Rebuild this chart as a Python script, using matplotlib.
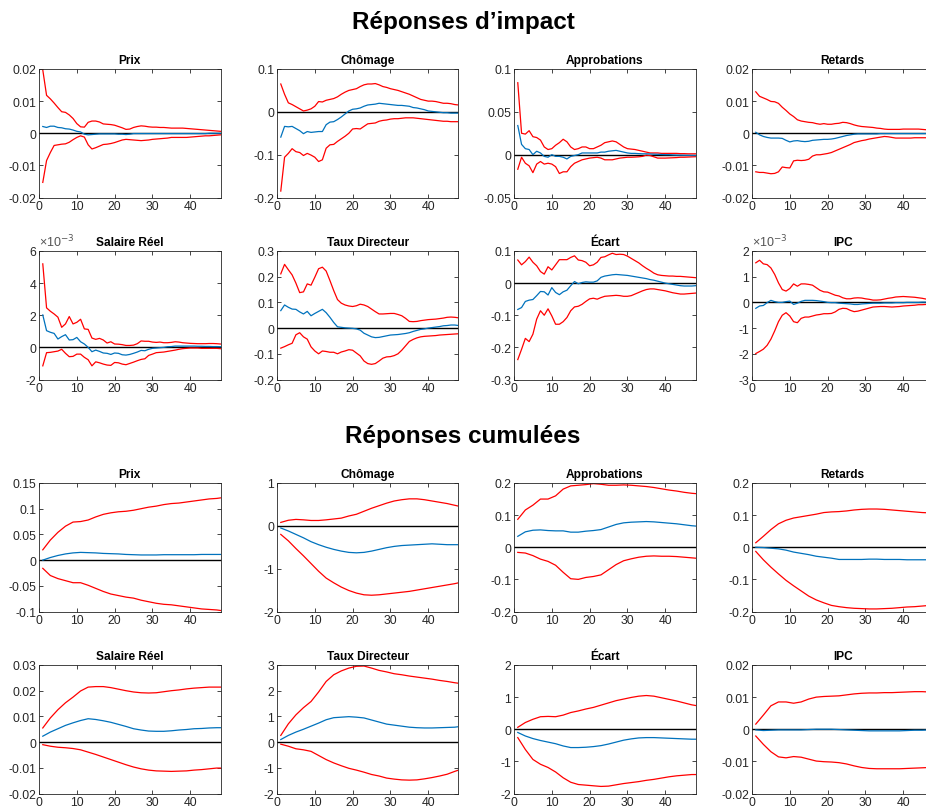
import numpy as np
import matplotlib
matplotlib.use("Agg")
import matplotlib.pyplot as plt
from matplotlib.ticker import MultipleLocator, FuncFormatter

plt.rcParams["font.family"] = ["Liberation Sans", "DejaVu Sans"]

TITLES = ["Prix", "Chômage", "Approbations", "Retards",
          "Salaire Réel", "Taux Directeur", "Écart", "IPC"]

T_IMP = np.arange(1, 49)
T_CUM = np.r_[np.arange(1, 48, 2), 48]

# ---- impact responses (lower band, median, upper band) ----
imp_prix_lo = [-0.0153, -0.0085, -0.0060, -0.0038, -0.0036, -0.0034, -0.0033, -0.0028, -0.0020, -0.0013,
               -0.0008, -0.0012, -0.0036, -0.0049, -0.0045, -0.0040, -0.0035, -0.0034, -0.0032, -0.0029,
               -0.0025, -0.0021, -0.0019, -0.0020, -0.0021, -0.0022, -0.0023, -0.0022, -0.0021, -0.0019,
               -0.0018, -0.0017, -0.0016, -0.0015, -0.0013, -0.0013, -0.0013, -0.0013, -0.0013, -0.0012,
               -0.0011, -0.0010, -0.0009, -0.0008, -0.0008, -0.0007, -0.0006, -0.0005]
imp_prix_med = [0.0021, 0.0018, 0.0022, 0.0022, 0.0018, 0.0017, 0.0014, 0.0013, 0.0010, 0.0006,
                0.0004, -0.0003, -0.0005, -0.0004, -0.0003, -0.0002, -0.0002, -0.0002, -0.0002, -0.0002,
                -0.0003, -0.0003, -0.0004, -0.0003, -0.0001, -0.0001, -0.0001, -0.0001, -0.0001, -0.0001,
                -0.0001, -0.0001, -0.0001, -0.0001, -0.0001, -0.0001, -0.0001, -0.0001, -0.0001, -0.0001,
                -0.0001, -0.0001, -0.0001, -0.0001, 0.0, 0.0, 0.0, 0.0]
imp_prix_hi = [0.0197, 0.0118, 0.0107, 0.0094, 0.0080, 0.0067, 0.0065, 0.0057, 0.0046, 0.0030,
               0.0020, 0.0019, 0.0034, 0.0038, 0.0038, 0.0035, 0.0029, 0.0028, 0.0027, 0.0025,
               0.0021, 0.0017, 0.0012, 0.0013, 0.0018, 0.0021, 0.0023, 0.0022, 0.0020, 0.0019,
               0.0019, 0.0018, 0.0018, 0.0017, 0.0016, 0.0016, 0.0016, 0.0016, 0.0015, 0.0014,
               0.0013, 0.0012, 0.0011, 0.0010, 0.0009, 0.0008, 0.0007, 0.0006]

imp_chom_lo = [-0.185, -0.106, -0.097, -0.086, -0.093, -0.095, -0.102, -0.097, -0.101, -0.106,
               -0.116, -0.112, -0.085, -0.077, -0.076, -0.069, -0.063, -0.057, -0.050, -0.040,
               -0.039, -0.040, -0.034, -0.028, -0.027, -0.026, -0.022, -0.020, -0.019, -0.017,
               -0.016, -0.016, -0.015, -0.014, -0.014, -0.014, -0.015, -0.016, -0.017, -0.018,
               -0.019, -0.020, -0.021, -0.022, -0.022, -0.023, -0.023, -0.023]
imp_chom_med = [-0.059, -0.034, -0.035, -0.034, -0.039, -0.044, -0.051, -0.046, -0.048, -0.047,
                -0.046, -0.046, -0.030, -0.024, -0.023, -0.018, -0.012, -0.005, 0.002, 0.006,
                0.007, 0.009, 0.013, 0.016, 0.017, 0.018, 0.020, 0.019, 0.018, 0.017,
                0.016, 0.015, 0.015, 0.014, 0.013, 0.010, 0.009, 0.007, 0.005, 0.002,
                0.001, 0.000, -0.001, -0.002, -0.002, -0.003, -0.003, -0.003]
imp_chom_hi = [0.065, 0.041, 0.021, 0.017, 0.012, 0.007, 0.002, 0.004, 0.007, 0.013,
               0.024, 0.023, 0.027, 0.029, 0.031, 0.035, 0.041, 0.046, 0.050, 0.052,
               0.054, 0.059, 0.063, 0.065, 0.065, 0.066, 0.063, 0.059, 0.057, 0.054,
               0.052, 0.050, 0.047, 0.044, 0.041, 0.037, 0.033, 0.029, 0.027, 0.025,
               0.025, 0.024, 0.022, 0.020, 0.020, 0.019, 0.017, 0.016]

imp_appr_lo = [-0.017, -0.003, -0.010, -0.013, -0.021, -0.011, -0.008, -0.011, -0.010, -0.011,
               -0.014, -0.022, -0.020, -0.020, -0.014, -0.010, -0.008, -0.006, -0.005, -0.004,
               -0.0035, -0.003, -0.004, -0.006, -0.006, -0.006, -0.005, -0.004, -0.0035, -0.003,
               -0.003, -0.0028, -0.0025, -0.002, -0.0005, -0.001, -0.0025, -0.004, -0.004, -0.004,
               -0.0038, -0.0036, -0.0034, -0.003, -0.003, -0.0028, -0.0026, -0.0024]
imp_appr_med = [0.034, 0.012, 0.007, 0.006, 0.000, 0.004, 0.002, -0.002, -0.003, 0.000,
                -0.002, -0.002, -0.003, -0.005, -0.002, -0.001, 0.000, 0.002, 0.002, 0.002,
                0.002, 0.002, 0.003, 0.003, 0.004, 0.0045, 0.005, 0.004, 0.003, 0.002,
                0.0015, 0.0015, 0.0012, 0.001, 0.001, 0.0008, 0.0006, 0.0004, 0.0002, 0.0,
                0.0, -0.0003, -0.0005, -0.0006, -0.0007, -0.0008, -0.0009, -0.001]
imp_appr_hi = [0.084, 0.025, 0.024, 0.028, 0.021, 0.020, 0.017, 0.009, 0.006, 0.007,
               0.011, 0.014, 0.018, 0.015, 0.009, 0.006, 0.007, 0.009, 0.009, 0.007,
               0.007, 0.009, 0.011, 0.014, 0.015, 0.016, 0.015, 0.012, 0.009, 0.007,
               0.0065, 0.006, 0.005, 0.004, 0.003, 0.002, 0.002, 0.002, 0.0015, 0.0015,
               0.0015, 0.0015, 0.0015, 0.0012, 0.0012, 0.001, 0.001, 0.001]

imp_ret_lo = [-0.0120, -0.0122, -0.0122, -0.0124, -0.0126, -0.0125, -0.0120, -0.0105, -0.0107, -0.0108,
              -0.0086, -0.0084, -0.0085, -0.0084, -0.0081, -0.0071, -0.0067, -0.0067, -0.0065, -0.0063,
              -0.0060, -0.0055, -0.0050, -0.0045, -0.0040, -0.0035, -0.0029, -0.0026, -0.0023, -0.0021,
              -0.0018, -0.0016, -0.0014, -0.0012, -0.0010, -0.0011, -0.0013, -0.0015, -0.0015, -0.0015,
              -0.0015, -0.0015, -0.0014, -0.0014, -0.0014, -0.0014, -0.0014, -0.0014]
imp_ret_med = [0.0003, -0.0005, -0.0010, -0.0013, -0.0015, -0.0015, -0.0015, -0.0016, -0.0022, -0.0027,
               -0.0024, -0.0023, -0.0025, -0.0026, -0.0025, -0.0022, -0.0021, -0.0020, -0.0019, -0.0019,
               -0.0018, -0.0016, -0.0013, -0.0010, -0.0007, -0.0005, -0.0003, -0.0002, -0.0002, -0.0002,
               -0.0002, -0.0002, -0.0002, -0.0001, -0.0001, -0.0001, -0.0001, -0.0001, -0.0001, -0.0001,
               -0.0001, -0.0001, -0.0001, -0.0001, -0.0001, -0.0001, -0.0001, -0.0001]
imp_ret_hi = [0.0129, 0.0115, 0.0110, 0.0105, 0.0099, 0.0098, 0.0093, 0.0081, 0.0071, 0.0060,
              0.0052, 0.0042, 0.0038, 0.0036, 0.0034, 0.0033, 0.0030, 0.0028, 0.0030, 0.0028,
              0.0028, 0.0030, 0.0031, 0.0034, 0.0033, 0.0030, 0.0026, 0.0023, 0.0021, 0.0020,
              0.0019, 0.0018, 0.0016, 0.0015, 0.0013, 0.0012, 0.0012, 0.0012, 0.0012, 0.0013,
              0.0013, 0.0013, 0.0013, 0.0013, 0.0012, 0.0011, 0.0011, 0.0010]

# salaire reel and IPC impact are in units of 1e-3
imp_sal_lo = [-1.15, -0.33, -0.31, -0.27, -0.23, -0.12, -0.37, -0.58, -0.56, -0.42,
              -0.42, -0.62, -0.77, -1.15, -0.90, -0.96, -1.04, -1.10, -1.12, -0.94,
              -0.96, -1.04, -1.08, -1.00, -0.92, -0.83, -0.75, -0.71, -0.50, -0.42,
              -0.33, -0.31, -0.29, -0.25, -0.21, -0.17, -0.12, -0.08, -0.06, -0.04,
              -0.04, -0.04, -0.06, -0.06, -0.06, -0.06, -0.06, -0.08]
imp_sal_med = [2.02, 1.04, 0.94, 0.87, 0.52, 0.67, 0.79, 0.46, 0.48, 0.62,
               0.35, 0.21, 0.00, -0.27, -0.17, -0.25, -0.35, -0.37, -0.44, -0.35,
               -0.37, -0.46, -0.48, -0.44, -0.37, -0.29, -0.19, -0.21, -0.12, -0.06,
               -0.04, -0.02, 0.00, 0.04, 0.05, 0.08, 0.08, 0.08, 0.08, 0.08,
               0.08, 0.07, 0.07, 0.06, 0.06, 0.05, 0.05, 0.04]
imp_sal_hi = [5.20, 2.46, 2.25, 2.08, 1.88, 1.25, 1.46, 1.92, 1.46, 1.56,
              1.75, 1.15, 1.12, 0.58, 0.50, 0.56, 0.46, 0.27, 0.35, 0.21,
              0.20, 0.17, 0.12, 0.12, 0.14, 0.23, 0.40, 0.38, 0.38, 0.33,
              0.31, 0.33, 0.29, 0.29, 0.31, 0.35, 0.33, 0.29, 0.27, 0.25,
              0.24, 0.23, 0.23, 0.23, 0.24, 0.24, 0.23, 0.21]

imp_taux_lo = [-0.078, -0.072, -0.065, -0.059, -0.026, -0.018, -0.034, -0.043, -0.073, -0.089,
               -0.100, -0.089, -0.091, -0.094, -0.094, -0.100, -0.093, -0.089, -0.084, -0.086,
               -0.097, -0.108, -0.128, -0.138, -0.141, -0.138, -0.128, -0.117, -0.112, -0.111,
               -0.107, -0.100, -0.086, -0.069, -0.052, -0.044, -0.038, -0.034, -0.032, -0.031,
               -0.030, -0.029, -0.027, -0.026, -0.025, -0.024, -0.023, -0.022]
imp_taux_med = [0.068, 0.090, 0.081, 0.074, 0.073, 0.063, 0.055, 0.065, 0.048, 0.057,
                0.065, 0.073, 0.060, 0.042, 0.022, 0.005, 0.003, 0.001, 0.000, -0.001,
                -0.003, -0.008, -0.020, -0.027, -0.034, -0.037, -0.036, -0.033, -0.030, -0.027,
                -0.026, -0.025, -0.023, -0.021, -0.018, -0.013, -0.009, -0.005, -0.003, 0.000,
                0.002, 0.004, 0.006, 0.009, 0.010, 0.012, 0.012, 0.010]
imp_taux_hi = [0.211, 0.248, 0.227, 0.207, 0.175, 0.138, 0.141, 0.172, 0.167, 0.198,
               0.231, 0.237, 0.222, 0.185, 0.146, 0.111, 0.097, 0.090, 0.086, 0.084,
               0.087, 0.093, 0.090, 0.084, 0.074, 0.064, 0.055, 0.055, 0.056, 0.057,
               0.057, 0.053, 0.048, 0.038, 0.026, 0.025, 0.026, 0.029, 0.031, 0.033,
               0.034, 0.035, 0.037, 0.039, 0.042, 0.043, 0.042, 0.040]

imp_ecart_lo = [-0.238, -0.206, -0.172, -0.182, -0.159, -0.112, -0.086, -0.100, -0.080, -0.102,
                -0.128, -0.128, -0.120, -0.107, -0.086, -0.074, -0.072, -0.066, -0.057, -0.049,
                -0.047, -0.050, -0.045, -0.041, -0.040, -0.039, -0.038, -0.039, -0.041, -0.041,
                -0.039, -0.034, -0.029, -0.024, -0.020, -0.018, -0.018, -0.020, -0.022, -0.024,
                -0.027, -0.030, -0.032, -0.034, -0.034, -0.033, -0.032, -0.031]
imp_ecart_med = [-0.082, -0.076, -0.057, -0.053, -0.051, -0.039, -0.026, -0.027, -0.037, -0.014,
                 -0.029, -0.036, -0.027, -0.022, -0.008, 0.005, -0.002, 0.002, 0.004, 0.003,
                 0.003, 0.007, 0.018, 0.022, 0.024, 0.026, 0.027, 0.026, 0.025, 0.024,
                 0.022, 0.020, 0.018, 0.016, 0.014, 0.011, 0.009, 0.006, 0.003, 0.000,
                 -0.002, -0.004, -0.006, -0.008, -0.009, -0.009, -0.009, -0.008]
imp_ecart_hi = [0.072, 0.057, 0.067, 0.081, 0.065, 0.054, 0.036, 0.028, 0.051, 0.041,
                0.057, 0.073, 0.073, 0.073, 0.080, 0.085, 0.072, 0.070, 0.065, 0.054,
                0.057, 0.065, 0.080, 0.082, 0.088, 0.093, 0.089, 0.090, 0.089, 0.084,
                0.077, 0.070, 0.063, 0.054, 0.046, 0.039, 0.031, 0.026, 0.024, 0.023,
                0.022, 0.022, 0.021, 0.021, 0.020, 0.019, 0.018, 0.017]

imp_ipc_lo = [-1.99, -1.91, -1.82, -1.67, -1.43, -1.11, -0.75, -0.50, -0.40, -0.53,
              -0.75, -0.79, -0.62, -0.57, -0.57, -0.53, -0.49, -0.47, -0.44, -0.44,
              -0.43, -0.37, -0.27, -0.23, -0.24, -0.31, -0.36, -0.34, -0.30, -0.26,
              -0.22, -0.18, -0.17, -0.16, -0.16, -0.17, -0.18, -0.17, -0.16, -0.14,
              -0.13, -0.12, -0.11, -0.09, -0.09, -0.08, -0.08, -0.08]
imp_ipc_med = [-0.23, -0.14, -0.12, -0.01, 0.08, 0.03, 0.00, 0.00, 0.03, 0.05,
               -0.08, -0.03, 0.04, 0.08, 0.08, 0.08, 0.07, 0.05, 0.03, 0.00,
               -0.01, -0.01, -0.03, -0.04, -0.05, -0.06, -0.08, -0.08, -0.06, -0.05,
               -0.04, -0.03, -0.03, -0.03, -0.02, -0.02, -0.02, -0.01, -0.01, -0.01,
               0.00, 0.00, 0.00, 0.00, 0.01, 0.01, 0.01, 0.01]
imp_ipc_hi = [1.54, 1.64, 1.50, 1.47, 1.34, 1.09, 0.76, 0.50, 0.44, 0.54,
              0.72, 0.63, 0.72, 0.72, 0.70, 0.67, 0.57, 0.47, 0.41, 0.40,
              0.34, 0.28, 0.25, 0.18, 0.14, 0.14, 0.17, 0.18, 0.17, 0.14,
              0.12, 0.09, 0.09, 0.10, 0.13, 0.16, 0.18, 0.21, 0.22, 0.23,
              0.22, 0.21, 0.20, 0.18, 0.16, 0.13, 0.12, 0.10]

# ---- cumulated responses, read at T_CUM ----
cum_prix_lo = [-0.016, -0.030, -0.036, -0.040, -0.044, -0.044, -0.049, -0.055, -0.061, -0.066, -0.069, -0.072, -0.074,
               -0.078, -0.081, -0.084, -0.086, -0.087, -0.089, -0.091, -0.093, -0.095, -0.096, -0.097, -0.098]
cum_prix_med = [0.000, 0.005, 0.009, 0.012, 0.014, 0.015, 0.0145, 0.014, 0.013, 0.0125, 0.012, 0.011, 0.0105,
                0.010, 0.010, 0.010, 0.0105, 0.0105, 0.0105, 0.0105, 0.0105, 0.011, 0.011, 0.011, 0.011]
cum_prix_hi = [0.020, 0.039, 0.054, 0.066, 0.074, 0.075, 0.078, 0.084, 0.089, 0.092, 0.094, 0.095, 0.097,
               0.100, 0.103, 0.105, 0.108, 0.110, 0.111, 0.113, 0.115, 0.117, 0.119, 0.120, 0.121]

cum_chom_lo = [-0.20, -0.35, -0.53, -0.70, -0.88, -1.06, -1.22, -1.33, -1.43, -1.51, -1.57, -1.61, -1.62,
               -1.61, -1.59, -1.57, -1.55, -1.53, -1.50, -1.47, -1.44, -1.41, -1.38, -1.35, -1.33]
cum_chom_med = [-0.05, -0.12, -0.20, -0.28, -0.37, -0.44, -0.50, -0.55, -0.59, -0.62, -0.63, -0.62, -0.59,
                -0.55, -0.51, -0.48, -0.46, -0.45, -0.44, -0.43, -0.42, -0.43, -0.44, -0.44, -0.44]
cum_chom_hi = [0.08, 0.13, 0.15, 0.14, 0.125, 0.125, 0.14, 0.16, 0.18, 0.23, 0.27, 0.34, 0.41,
               0.47, 0.53, 0.58, 0.61, 0.63, 0.63, 0.61, 0.58, 0.55, 0.52, 0.48, 0.46]

cum_appr_lo = [-0.016, -0.018, -0.026, -0.037, -0.044, -0.056, -0.078, -0.098, -0.100, -0.094, -0.091, -0.086, -0.070,
               -0.054, -0.042, -0.036, -0.031, -0.028, -0.027, -0.028, -0.028, -0.029, -0.031, -0.033, -0.034]
cum_appr_med = [0.034, 0.048, 0.053, 0.054, 0.052, 0.051, 0.051, 0.047, 0.047, 0.050, 0.052, 0.055, 0.063,
                0.071, 0.076, 0.078, 0.079, 0.080, 0.079, 0.077, 0.075, 0.073, 0.070, 0.067, 0.066]
cum_appr_hi = [0.087, 0.116, 0.131, 0.150, 0.150, 0.160, 0.181, 0.191, 0.193, 0.195, 0.198, 0.196, 0.193,
               0.193, 0.194, 0.193, 0.191, 0.189, 0.186, 0.182, 0.178, 0.175, 0.171, 0.168, 0.167]

cum_ret_lo = [-0.013, -0.039, -0.062, -0.083, -0.103, -0.120, -0.136, -0.152, -0.164, -0.173, -0.181, -0.185, -0.188,
              -0.190, -0.191, -0.192, -0.192, -0.191, -0.190, -0.188, -0.186, -0.185, -0.183, -0.181, -0.180]
cum_ret_med = [0.000, -0.001, -0.003, -0.005, -0.009, -0.015, -0.019, -0.023, -0.028, -0.031, -0.034, -0.038, -0.038,
               -0.038, -0.038, -0.037, -0.037, -0.038, -0.038, -0.038, -0.039, -0.039, -0.039, -0.039, -0.039]
cum_ret_hi = [0.014, 0.034, 0.055, 0.073, 0.084, 0.091, 0.095, 0.099, 0.103, 0.108, 0.110, 0.111, 0.113,
              0.116, 0.118, 0.119, 0.119, 0.118, 0.116, 0.114, 0.112, 0.110, 0.108, 0.107, 0.106]

cum_sal_lo = [-0.0010, -0.0016, -0.0020, -0.0022, -0.0025, -0.0030, -0.0039, -0.0048, -0.0058, -0.0068, -0.0078,
              -0.0088, -0.0097, -0.0104, -0.0109, -0.0112, -0.0113, -0.0114, -0.0113, -0.0112, -0.0109, -0.0107,
              -0.0104, -0.0101, -0.0101]
cum_sal_med = [0.0023, 0.0039, 0.0052, 0.0065, 0.0075, 0.0084, 0.0091, 0.0088, 0.0083, 0.0077, 0.0069, 0.0061,
               0.0052, 0.0047, 0.0043, 0.0042, 0.0042, 0.0044, 0.0047, 0.0049, 0.0052, 0.0053, 0.0055, 0.0056, 0.0056]
cum_sal_hi = [0.0055, 0.0094, 0.0126, 0.0153, 0.0175, 0.0199, 0.0214, 0.0216, 0.0216, 0.0212, 0.0206, 0.0200,
              0.0195, 0.0192, 0.0191, 0.0192, 0.0196, 0.0200, 0.0203, 0.0207, 0.0210, 0.0212, 0.0214, 0.0214, 0.0214]

cum_taux_lo = [-0.08, -0.16, -0.26, -0.30, -0.36, -0.52, -0.68, -0.81, -0.92, -1.02, -1.09, -1.17, -1.26,
               -1.32, -1.40, -1.44, -1.47, -1.48, -1.47, -1.43, -1.38, -1.32, -1.25, -1.14, -1.09]
cum_taux_med = [0.10, 0.26, 0.39, 0.50, 0.62, 0.74, 0.87, 0.95, 0.97, 0.99, 0.97, 0.94, 0.86,
                0.78, 0.70, 0.66, 0.62, 0.58, 0.56, 0.55, 0.55, 0.56, 0.57, 0.58, 0.60]
cum_taux_hi = [0.26, 0.71, 1.06, 1.34, 1.58, 1.95, 2.36, 2.62, 2.77, 2.88, 2.95, 2.96, 2.88,
               2.79, 2.73, 2.66, 2.62, 2.57, 2.53, 2.49, 2.45, 2.40, 2.36, 2.31, 2.29]

cum_ecart_lo = [-0.26, -0.63, -0.94, -1.09, -1.19, -1.33, -1.51, -1.65, -1.72, -1.74, -1.76, -1.78, -1.77,
                -1.73, -1.69, -1.66, -1.63, -1.59, -1.56, -1.52, -1.48, -1.45, -1.43, -1.41, -1.41]
cum_ecart_med = [-0.10, -0.21, -0.29, -0.35, -0.40, -0.45, -0.52, -0.57, -0.57, -0.56, -0.54, -0.51, -0.46,
                 -0.40, -0.34, -0.30, -0.27, -0.26, -0.26, -0.27, -0.28, -0.29, -0.30, -0.31, -0.31]
cum_ecart_hi = [0.06, 0.21, 0.31, 0.39, 0.40, 0.39, 0.44, 0.52, 0.57, 0.63, 0.68, 0.75, 0.82,
                0.89, 0.94, 0.99, 1.03, 1.05, 1.03, 0.98, 0.93, 0.88, 0.82, 0.76, 0.74]

cum_ipc_lo = [-0.0021, -0.0047, -0.0070, -0.0086, -0.0089, -0.0085, -0.0087, -0.0093, -0.0099, -0.0101, -0.0102,
              -0.0104, -0.0108, -0.0114, -0.0119, -0.0122, -0.0123, -0.0123, -0.0123, -0.0123, -0.0122, -0.0121,
              -0.0120, -0.0119, -0.0119]
cum_ipc_med = [-0.0002, -0.0004, -0.0003, -0.0002, -0.0002, -0.0002, -0.0002, -0.0001, 0.0, 0.0, 0.0, -0.0001,
               -0.0002, -0.0003, -0.0004, -0.0005, -0.0005, -0.0005, -0.0005, -0.0005, -0.0004, -0.0003, -0.0003,
               -0.0002, -0.0002]
cum_ipc_hi = [0.0016, 0.0044, 0.0073, 0.0085, 0.0085, 0.0081, 0.0085, 0.0094, 0.0100, 0.0102, 0.0103, 0.0104,
              0.0107, 0.0110, 0.0112, 0.0113, 0.0113, 0.0114, 0.0114, 0.0115, 0.0116, 0.0117, 0.0117, 0.0116, 0.0116]

IMPACT = [(imp_prix_lo, imp_prix_med, imp_prix_hi), (imp_chom_lo, imp_chom_med, imp_chom_hi),
          (imp_appr_lo, imp_appr_med, imp_appr_hi), (imp_ret_lo, imp_ret_med, imp_ret_hi),
          (imp_sal_lo, imp_sal_med, imp_sal_hi), (imp_taux_lo, imp_taux_med, imp_taux_hi),
          (imp_ecart_lo, imp_ecart_med, imp_ecart_hi), (imp_ipc_lo, imp_ipc_med, imp_ipc_hi)]
CUMUL = [(cum_prix_lo, cum_prix_med, cum_prix_hi), (cum_chom_lo, cum_chom_med, cum_chom_hi),
         (cum_appr_lo, cum_appr_med, cum_appr_hi), (cum_ret_lo, cum_ret_med, cum_ret_hi),
         (cum_sal_lo, cum_sal_med, cum_sal_hi), (cum_taux_lo, cum_taux_med, cum_taux_hi),
         (cum_ecart_lo, cum_ecart_med, cum_ecart_hi), (cum_ipc_lo, cum_ipc_med, cum_ipc_hi)]

# y range + tick step per panel (ymin, ymax, step)
IMP_Y = [(-0.02, 0.02, 0.01), (-0.2, 0.1, 0.1), (-0.05, 0.1, 0.05), (-0.02, 0.02, 0.01),
         (-2, 6, 2), (-0.2, 0.3, 0.1), (-0.3, 0.1, 0.1), (-3, 2, 1)]
CUM_Y = [(-0.1, 0.15, 0.05), (-2, 1, 1), (-0.2, 0.2, 0.1), (-0.2, 0.2, 0.1),
         (-0.02, 0.03, 0.01), (-2, 3, 1), (-2, 2, 1), (-0.02, 0.02, 0.01)]
IMP_SCALED = {4, 7}   # panels drawn in 1e-3 units

W, H = 926, 812
COL_X = [39, 277, 514, 752]
ROW_TOP = [70, 252, 484, 666]
AX_W, AX_H = 181.5, 128.5
GRAY = "#262626"
BLUE = "#0072BD"

fig = plt.figure(figsize=(W / 100, H / 100), dpi=100)
fmt = FuncFormatter(lambda v, p: f"{round(v, 6):g}")


def panel(row, col, t, band, yspec, title, scaled=False):
    x0 = COL_X[col] / W
    y0 = 1 - (ROW_TOP[row] + AX_H) / H
    ax = fig.add_axes([x0, y0, AX_W / W, AX_H / H])
    lo, med, hi = band
    ax.plot([0, 48], [0, 0], color="black", lw=1.0)
    ax.plot(t, hi, color="red", lw=0.9)
    ax.plot(t, lo, color="red", lw=0.9)
    ax.plot(t, med, color=BLUE, lw=0.9)
    ax.set_xlim(0, 48)
    ax.set_ylim(yspec[0], yspec[1])
    ax.xaxis.set_major_locator(MultipleLocator(10))
    ax.yaxis.set_major_locator(MultipleLocator(yspec[2]))
    ax.yaxis.set_major_formatter(fmt)
    ax.tick_params(direction="in", top=True, right=True, length=3, width=0.6,
                   labelsize=8.8, colors=GRAY, pad=2)
    for s in ax.spines.values():
        s.set_color(GRAY)
        s.set_linewidth(0.6)
    ax.set_title(title, fontsize=8.6, fontweight="bold", pad=4)
    if scaled:
        ax.text(0.0, 1.01, r"×10$^{-3}$", transform=ax.transAxes, fontsize=9,
                color="#555555", ha="left", va="bottom")
    return ax


for k in range(8):
    r, c = divmod(k, 4)
    panel(r, c, T_IMP, IMPACT[k], IMP_Y[k], TITLES[k], scaled=k in IMP_SCALED)
    panel(r + 2, c, T_CUM, CUMUL[k], CUM_Y[k], TITLES[k])

fig.text(463 / W, 1 - 22 / H, "Réponses d’impact", ha="center", va="center",
         fontsize=17.5, fontweight="bold")
fig.text(463 / W, 1 - 437 / H, "Réponses cumulées", ha="center", va="center",
         fontsize=17.5, fontweight="bold")

fig.savefig("out.png", dpi=100)
